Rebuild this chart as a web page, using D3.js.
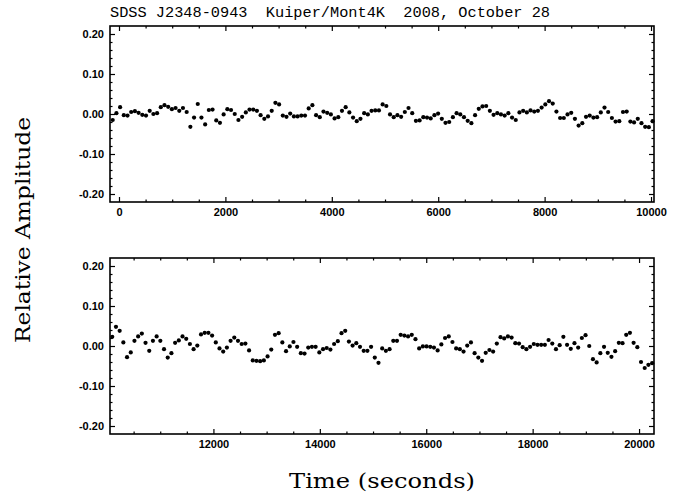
<!DOCTYPE html>
<html>
<head>
<meta charset="utf-8">
<script src="https://cdn.jsdelivr.net/npm/d3@7"></script>
<style>
  body { margin: 0; background: #fff; }
  svg { display: block; }
</style>
</head>
<body>
<svg id="chart" width="689" height="495"></svg>
<script>
// Light curve of SDSS J2348-0943, Kuiper/Mont4K, 2008 Oct 28
const titleText = "SDSS J2348-0943  Kuiper/Mont4K  2008, October 28";
const yLabelText = "Relative Amplitude";
const xLabelText = "Time (seconds)";

// exposure timing (s)
const startTime = -118;
const cadence = 69.5;

// time windows shown in each panel (s) and amplitude window
const topWindow = [-169, 10056];
const bottomWindow = [10056, 20281];
const ampWindow = [-0.22, 0.22];

// labelled ticks
const topTimeTicks = [0, 2000, 4000, 6000, 8000, 10000];
const bottomTimeTicks = [12000, 14000, 16000, 18000, 20000];
const ampTicks = [-0.2, -0.1, 0.0, 0.1, 0.2];

// relative amplitude, first half of the run
const topAmp = [
  -0.015, 0.002, 0.017, -0.003, -0.004, 0.005, 0.007, 0.003, -0.002, -0.004,
   0.008, 0.000, 0.002, 0.017, 0.022, 0.018, 0.012, 0.015, 0.008, 0.015,
   0.005, -0.032, -0.009, 0.025, -0.009, -0.026, 0.010, 0.011, -0.016, -0.022,
  -0.001, 0.012, 0.010, 0.000, -0.015, -0.007, 0.004, 0.011, 0.011, 0.008,
  -0.003, -0.012, -0.006, 0.008, 0.028, 0.024, -0.004, -0.007, 0.001, -0.006,
  -0.006, -0.004, -0.004, 0.014, 0.022, -0.003, -0.008, 0.006, 0.003, -0.001,
  -0.011, -0.008, 0.008, 0.017, 0.004, -0.009, -0.018, -0.012, 0.002, -0.001,
   0.008, 0.009, 0.009, 0.024, 0.020, -0.001, -0.008, -0.003, -0.007, 0.005,
   0.015, 0.002, -0.017, -0.016, -0.008, -0.009, -0.011, -0.003, 0.001, -0.012,
  -0.022, -0.020, -0.008, 0.002, -0.001, -0.008, -0.017, -0.023, -0.003, 0.013,
   0.019, 0.020, 0.008, -0.002, 0.002, -0.001, -0.004, 0.002, -0.009, -0.015,
   0.004, 0.008, 0.004, 0.009, 0.006, 0.008, 0.016, 0.024, 0.032, 0.026,
   0.006, -0.010, -0.010, -0.001, 0.003, -0.012, -0.029, -0.023, -0.007, -0.004,
  -0.009, -0.008, 0.004, 0.016, 0.005, -0.010, -0.019, -0.018, 0.005, 0.006,
  -0.019, -0.021, -0.012, -0.023, -0.032, -0.033, -0.018
];

// relative amplitude, second half of the run
const bottomAmp = [
   0.023, 0.048, 0.038, 0.009, -0.028, -0.016, 0.013, 0.024, 0.031, 0.008,
  -0.012, 0.013, 0.024, 0.013, -0.008, -0.029, -0.018, 0.008, 0.014, 0.024,
   0.018, 0.005, -0.008, 0.001, 0.029, 0.033, 0.033, 0.026, 0.009, -0.006,
  -0.014, -0.004, 0.013, 0.021, 0.013, 0.005, 0.006, -0.011, -0.036, -0.037,
  -0.038, -0.036, -0.026, -0.009, 0.028, 0.032, 0.009, -0.013, -0.001, 0.010,
  -0.002,
  -0.018, -0.019, -0.004, -0.002, -0.002, -0.016, -0.008, -0.005, -0.009, 0.005,
   0.012, 0.032, 0.038, 0.011, 0.001, 0.007, -0.002, -0.012, -0.012, -0.002,
  -0.029, -0.042, -0.006, -0.012, -0.008, 0.013, 0.013, 0.028, 0.026, 0.024,
   0.028, 0.017, -0.006, -0.001, -0.001, -0.002, -0.004, -0.011, 0.004, 0.020,
   0.024, 0.010, -0.006, -0.008, -0.014, 0.001, 0.009, -0.018, -0.029, -0.037,
  -0.017, -0.010,
  -0.014, 0.006, 0.022, 0.019, 0.024, 0.021, 0.007, 0.006, -0.003, -0.008,
  -0.002, 0.005, 0.003, 0.003, 0.003, 0.015, 0.006, -0.008, 0.002, 0.023,
   0.003, -0.007, 0.007, -0.004, 0.020, 0.027, 0.000, -0.033, -0.041, -0.018,
  -0.002, -0.017, -0.027, -0.013, 0.008, 0.007, 0.028, 0.033, 0.008, -0.003,
  -0.040, -0.055, -0.047, -0.043
];

const svg = d3.select("#chart");
const left = 110, right = 654;
const tickFont = "'Liberation Sans', Arial, sans-serif";

const panels = [
  { window: topWindow, ticks: topTimeTicks, amp: topAmp, offset: 0, top: 26, bottom: 202 },
  { window: bottomWindow, ticks: bottomTimeTicks, amp: bottomAmp, offset: topAmp.length, top: 258, bottom: 434 }
];

function styleAxis(g) {
  g.select(".domain").remove();
  g.selectAll(".tick line").attr("stroke", "#000").attr("stroke-width", 1.2);
  g.selectAll("text")
    .attr("font-family", tickFont)
    .attr("font-size", 11)
    .attr("font-weight", "bold")
    .attr("fill", "#000");
}

panels.forEach(p => {
  const x = d3.scaleLinear().domain(p.window).range([left, right]);
  const y = d3.scaleLinear().domain(ampWindow).range([p.bottom, p.top]);
  const g = svg.append("g");

  const minorX = d3.range(Math.ceil(p.window[0] / 500) * 500, p.window[1], 500)
    .filter(v => v % 2000 !== 0);
  const minorY = d3.range(-10, 11).map(k => k * 0.02).filter(v => Math.abs(Math.round(v * 100)) % 10 !== 0);

  // major ticks with labels (bottom, left) and mirrored ticks (top, right)
  g.append("g").attr("transform", `translate(0,${p.bottom})`)
    .call(d3.axisBottom(x).tickValues(p.ticks).tickSizeInner(-5).tickSizeOuter(0).tickPadding(6).tickFormat(d3.format("d")))
    .call(styleAxis);
  g.append("g").attr("transform", `translate(0,${p.top})`)
    .call(d3.axisTop(x).tickValues(p.ticks).tickSizeInner(-5).tickSizeOuter(0).tickFormat(""))
    .call(styleAxis);
  g.append("g").attr("transform", `translate(${left},0)`)
    .call(d3.axisLeft(y).tickValues(ampTicks).tickSizeInner(-5).tickSizeOuter(0).tickPadding(6)
      .tickFormat(v => d3.format(".2f")(v).replace("\u2212", "-")))
    .call(styleAxis);
  g.append("g").attr("transform", `translate(${right},0)`)
    .call(d3.axisRight(y).tickValues(ampTicks).tickSizeInner(-5).tickSizeOuter(0).tickFormat(""))
    .call(styleAxis);

  // minor ticks
  g.append("g").attr("transform", `translate(0,${p.bottom})`)
    .call(d3.axisBottom(x).tickValues(minorX).tickSizeInner(-2.5).tickSizeOuter(0).tickFormat(""))
    .call(styleAxis);
  g.append("g").attr("transform", `translate(0,${p.top})`)
    .call(d3.axisTop(x).tickValues(minorX).tickSizeInner(-2.5).tickSizeOuter(0).tickFormat(""))
    .call(styleAxis);
  g.append("g").attr("transform", `translate(${left},0)`)
    .call(d3.axisLeft(y).tickValues(minorY).tickSizeInner(-2.5).tickSizeOuter(0).tickFormat(""))
    .call(styleAxis);
  g.append("g").attr("transform", `translate(${right},0)`)
    .call(d3.axisRight(y).tickValues(minorY).tickSizeInner(-2.5).tickSizeOuter(0).tickFormat(""))
    .call(styleAxis);

  // frame
  g.append("rect")
    .attr("x", left).attr("y", p.top)
    .attr("width", right - left).attr("height", p.bottom - p.top)
    .attr("fill", "none").attr("stroke", "#000").attr("stroke-width", 1.6);

  // photometric points
  g.append("g").selectAll("circle")
    .data(p.amp.map((a, i) => ({ t: startTime + (p.offset + i) * cadence, a })))
    .join("circle")
    .attr("cx", d => x(d.t))
    .attr("cy", d => y(d.a))
    .attr("r", 2.1)
    .attr("fill", "#000");
});

// title
svg.append("text")
  .attr("x", left).attr("y", 17)
  .attr("font-family", "'Liberation Mono', 'DejaVu Sans Mono', monospace")
  .attr("font-size", 15)
  .attr("textLength", 440).attr("lengthAdjust", "spacingAndGlyphs")
  .style("white-space", "pre")
  .text(titleText);

// axis titles
svg.append("text")
  .attr("transform", `translate(30,${(26 + 434) / 2}) rotate(-90)`)
  .attr("text-anchor", "middle")
  .attr("font-family", "'DejaVu Serif', 'Liberation Serif', serif")
  .attr("font-size", 21)
  .attr("textLength", 226).attr("lengthAdjust", "spacingAndGlyphs")
  .text(yLabelText);

svg.append("text")
  .attr("x", (left + right) / 2).attr("y", 488)
  .attr("text-anchor", "middle")
  .attr("font-family", "'DejaVu Serif', 'Liberation Serif', serif")
  .attr("font-size", 21)
  .attr("textLength", 186).attr("lengthAdjust", "spacingAndGlyphs")
  .text(xLabelText);
</script>
</body>
</html>
